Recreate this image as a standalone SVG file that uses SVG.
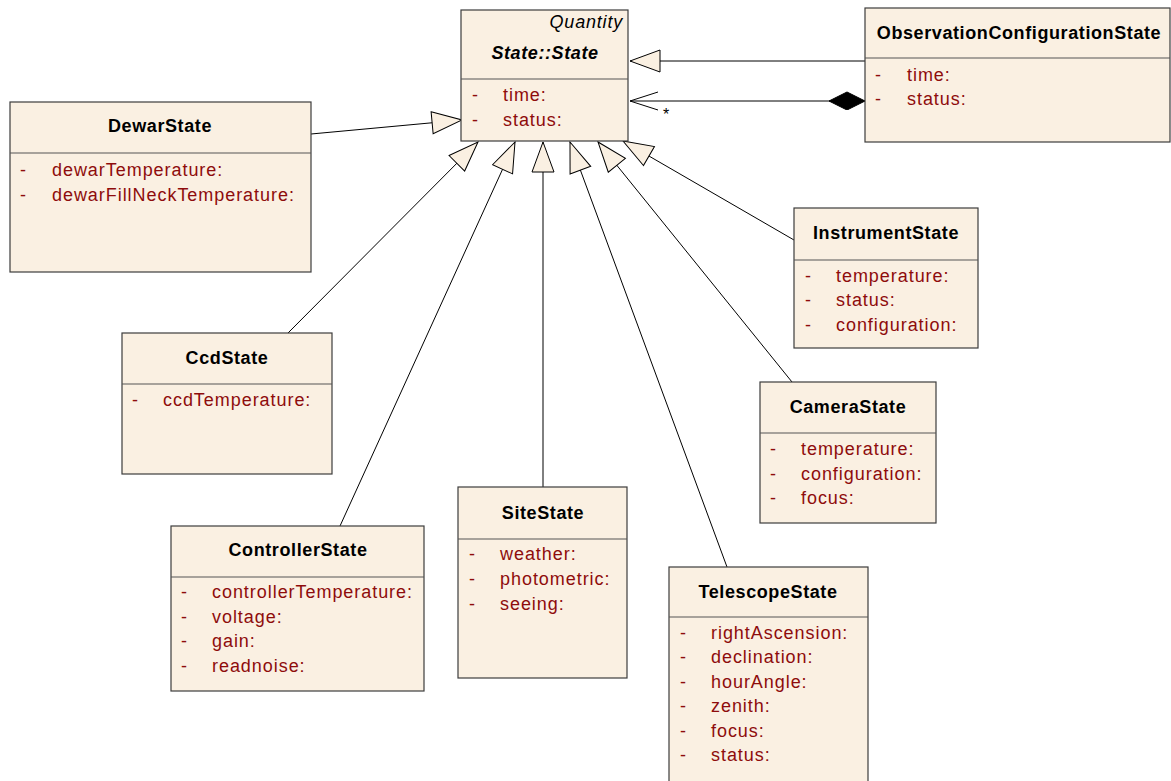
<svg xmlns="http://www.w3.org/2000/svg" width="1171" height="781" viewBox="0 0 1171 781">
<style>
.box{fill:#FAF0E2;stroke:#3c3c3c;stroke-width:1.2}
.div{stroke:#555;stroke-width:1.2}
.t{font-family:"Liberation Sans",Arial,sans-serif;font-size:18px;font-weight:bold;fill:#000;text-anchor:middle;letter-spacing:0.6px}
.a{font-family:"Liberation Sans",Arial,sans-serif;font-size:18px;fill:#8E0C0C;letter-spacing:0.95px}
.c{stroke:#000;stroke-width:1;fill:none}
</style>
<defs>
<marker id="gen" markerUnits="userSpaceOnUse" markerWidth="34" markerHeight="26" viewBox="0 0 34 26" refX="31" refY="12" orient="auto"><path d="M1,1 L31,12 L1,23 Z" fill="#FAF0E2" stroke="#000" stroke-width="1"/></marker>
<marker id="open" markerUnits="userSpaceOnUse" markerWidth="32" markerHeight="22" viewBox="0 0 32 22" refX="29" refY="10" orient="auto"><path d="M1,1 L29,10 L1,19" fill="none" stroke="#000" stroke-width="1"/></marker>
<marker id="dia" markerUnits="userSpaceOnUse" markerWidth="38" markerHeight="20" viewBox="0 0 38 20" refX="0" refY="9" orient="auto"><path d="M0,9 L18,0 L36,9 L18,18 Z" fill="#000" stroke="#000" stroke-width="1"/></marker>
</defs>
<g id="connectors">
<line class="c" x1="311" y1="134" x2="462" y2="120" marker-end="url(#gen)"/>
<line class="c" x1="288" y1="333" x2="478" y2="142" marker-end="url(#gen)"/>
<line class="c" x1="340" y1="526" x2="515" y2="142" marker-end="url(#gen)"/>
<line class="c" x1="543" y1="487" x2="543" y2="142" marker-end="url(#gen)"/>
<line class="c" x1="727" y1="567" x2="570" y2="142" marker-end="url(#gen)"/>
<line class="c" x1="792" y1="382" x2="598" y2="142" marker-end="url(#gen)"/>
<line class="c" x1="794" y1="240" x2="623" y2="141" marker-end="url(#gen)"/>
<line class="c" x1="865" y1="61" x2="630" y2="61" marker-end="url(#gen)"/>
<line class="c" x1="865" y1="101" x2="630" y2="101" marker-start="url(#dia)" marker-end="url(#open)"/>
<text x="663" y="120" font-family="Liberation Sans,Arial,sans-serif" font-size="16" fill="#000">*</text>
</g>
<g id="State">
<rect class="box" x="461" y="10" width="167" height="131"/>
<line class="div" x1="461" y1="79" x2="628" y2="79"/>
<text x="623" y="28" font-family="Liberation Sans,Arial,sans-serif" font-size="18" font-style="italic" text-anchor="end" letter-spacing="0.8">Quantity</text>
<text class="t" x="545" y="59" font-style="italic">State::State</text>
<text class="a" x="472" y="101">-</text><text class="a" x="503" y="101">time:</text>
<text class="a" x="472" y="126">-</text><text class="a" x="503" y="126">status:</text>
</g>
<g id="DewarState">
<rect class="box" x="10" y="102" width="301" height="170"/>
<line class="div" x1="10" y1="153" x2="311" y2="153"/>
<text class="t" x="160" y="132">DewarState</text>
<text class="a" x="20" y="176">-</text><text class="a" x="52" y="176">dewarTemperature:</text>
<text class="a" x="20" y="201">-</text><text class="a" x="52" y="201">dewarFillNeckTemperature:</text>
</g>
<g id="ObservationConfigurationState">
<rect class="box" x="865" y="8" width="305" height="134"/>
<line class="div" x1="865" y1="58" x2="1170" y2="58"/>
<text class="t" x="1019" y="39">ObservationConfigurationState</text>
<text class="a" x="875" y="81">-</text><text class="a" x="907" y="81">time:</text>
<text class="a" x="875" y="105">-</text><text class="a" x="907" y="105">status:</text>
</g>
<g id="InstrumentState">
<rect class="box" x="794" y="208" width="184" height="140"/>
<line class="div" x1="794" y1="260" x2="978" y2="260"/>
<text class="t" x="886" y="239">InstrumentState</text>
<text class="a" x="805" y="282">-</text><text class="a" x="836" y="282">temperature:</text>
<text class="a" x="805" y="306">-</text><text class="a" x="836" y="306">status:</text>
<text class="a" x="805" y="331">-</text><text class="a" x="836" y="331">configuration:</text>
</g>
<g id="CameraState">
<rect class="box" x="760" y="382" width="176" height="141"/>
<line class="div" x1="760" y1="433" x2="936" y2="433"/>
<text class="t" x="848" y="413">CameraState</text>
<text class="a" x="770" y="455">-</text><text class="a" x="801" y="455">temperature:</text>
<text class="a" x="770" y="480">-</text><text class="a" x="801" y="480">configuration:</text>
<text class="a" x="770" y="504">-</text><text class="a" x="801" y="504">focus:</text>
</g>
<g id="CcdState">
<rect class="box" x="122" y="333" width="210" height="141"/>
<line class="div" x1="122" y1="384" x2="332" y2="384"/>
<text class="t" x="227" y="364">CcdState</text>
<text class="a" x="132" y="406">-</text><text class="a" x="163" y="406">ccdTemperature:</text>
</g>
<g id="ControllerState">
<rect class="box" x="171" y="526" width="253" height="165"/>
<line class="div" x1="171" y1="577" x2="424" y2="577"/>
<text class="t" x="298" y="556">ControllerState</text>
<text class="a" x="181" y="598">-</text><text class="a" x="212" y="598">controllerTemperature:</text>
<text class="a" x="181" y="623">-</text><text class="a" x="212" y="623">voltage:</text>
<text class="a" x="181" y="647">-</text><text class="a" x="212" y="647">gain:</text>
<text class="a" x="181" y="672">-</text><text class="a" x="212" y="672">readnoise:</text>
</g>
<g id="SiteState">
<rect class="box" x="458" y="487" width="169" height="191"/>
<line class="div" x1="458" y1="539" x2="627" y2="539"/>
<text class="t" x="543" y="519">SiteState</text>
<text class="a" x="469" y="560">-</text><text class="a" x="500" y="560">weather:</text>
<text class="a" x="469" y="585">-</text><text class="a" x="500" y="585">photometric:</text>
<text class="a" x="469" y="610">-</text><text class="a" x="500" y="610">seeing:</text>
</g>
<g id="TelescopeState">
<rect class="box" x="669" y="567" width="199" height="230"/>
<line class="div" x1="669" y1="617" x2="868" y2="617"/>
<text class="t" x="768" y="598">TelescopeState</text>
<text class="a" x="680" y="639">-</text><text class="a" x="711" y="639">rightAscension:</text>
<text class="a" x="680" y="663">-</text><text class="a" x="711" y="663">declination:</text>
<text class="a" x="680" y="688">-</text><text class="a" x="711" y="688">hourAngle:</text>
<text class="a" x="680" y="712">-</text><text class="a" x="711" y="712">zenith:</text>
<text class="a" x="680" y="737">-</text><text class="a" x="711" y="737">focus:</text>
<text class="a" x="680" y="761">-</text><text class="a" x="711" y="761">status:</text>
</g>
</svg>
